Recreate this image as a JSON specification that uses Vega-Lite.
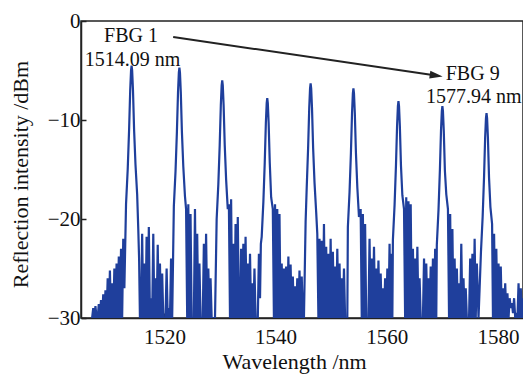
{
  "$schema": "https://vega.github.io/schema/vega-lite/v6.json",
  "width": 442,
  "height": 297,
  "autosize": "none",
  "padding": {"left": 81, "top": 21, "right": 0, "bottom": 56},
  "background": "white",
  "config": {
    "view": {"stroke": "#222", "strokeWidth": 1.5},
    "font": "Liberation Serif",
    "axis": {
      "grid": false,
      "domainColor": "#222",
      "domainWidth": 1.5,
      "tickColor": "#222",
      "tickWidth": 1.5,
      "tickSize": -5,
      "labelFont": "Liberation Serif",
      "labelFontSize": 21,
      "labelColor": "#111",
      "titleFont": "Liberation Serif",
      "titleFontSize": 22,
      "titleFontWeight": "normal",
      "titleColor": "#111"
    }
  },
  "encoding": {
    "x": {"type": "quantitative",
      "scale": {"domain": [1505, 1584.5], "nice": false, "zero": false},
      "axis": {"values": [1520, 1540, 1560, 1580], "format": "d", "title": "Wavelength /nm", "labelPadding": 13,
        "titleX": 213, "titleY": 50, "titleBaseline": "alphabetic", "titleAlign": "center", "titleAnchor": null}},
    "y": {"type": "quantitative",
      "scale": {"domain": [-30, 0], "nice": false, "zero": false},
      "axis": {"values": [-30, -20, -10, 0], "title": "Reflection intensity /dBm", "labelPadding": 6,
        "titleX": -54, "titleY": 153, "titleBaseline": "alphabetic", "titleAlign": "center", "titleAngle": -90}}
  },
  "layer": [
    {
      "data": {"values": [
        {"w":1507.0,"r":-30},{"w":1507.2,"r":-29.0},{"w":1507.4,"r":-30},{"w":1507.6,"r":-28.8},{"w":1507.8,"r":-30},{"w":1508.0,"r":-30},{"w":1508.2,"r":-28.6},{"w":1508.4,"r":-30},{"w":1508.6,"r":-28.2},{"w":1508.8,"r":-30},
        {"w":1509.0,"r":-27.6},{"w":1509.2,"r":-30},{"w":1509.4,"r":-27.2},{"w":1509.6,"r":-30},{"w":1509.8,"r":-26.0},{"w":1510.0,"r":-30},{"w":1510.2,"r":-25.2},{"w":1510.4,"r":-30},{"w":1510.6,"r":-26.5},{"w":1510.8,"r":-30},
        {"w":1511.0,"r":-25.0},{"w":1511.2,"r":-30},{"w":1511.4,"r":-24.5},{"w":1511.6,"r":-30},{"w":1511.8,"r":-23.8},{"w":1512.0,"r":-30},{"w":1512.2,"r":-23.0},{"w":1512.4,"r":-30},{"w":1512.6,"r":-22.0},{"w":1512.8,"r":-27.0},
        {"w":1513.1,"r":-18.5},{"w":1513.4,"r":-15.0},{"w":1513.65,"r":-11.0},{"w":1513.85,"r":-7.0},{"w":1514.0,"r":-5.0},{"w":1514.1,"r":-4.5},{"w":1514.2,"r":-5.0},{"w":1514.35,"r":-7.0},{"w":1514.55,"r":-11.0},{"w":1514.8,"r":-14.5},{"w":1515.1,"r":-17.5},{"w":1515.3,"r":-21.0},{"w":1515.45,"r":-24.0},
        {"w":1515.6,"r":-30},{"w":1515.8,"r":-30},{"w":1516.0,"r":-21.5},{"w":1516.2,"r":-30},{"w":1516.4,"r":-24.5},{"w":1516.6,"r":-30},{"w":1516.8,"r":-21.8},{"w":1517.0,"r":-30},{"w":1517.2,"r":-20.8},{"w":1517.4,"r":-30},
        {"w":1517.6,"r":-28.0},{"w":1517.8,"r":-30},{"w":1518.0,"r":-21.5},{"w":1518.2,"r":-30},{"w":1518.4,"r":-26.0},{"w":1518.6,"r":-30},{"w":1518.8,"r":-22.6},{"w":1519.0,"r":-30},{"w":1519.2,"r":-24.5},{"w":1519.4,"r":-30},
        {"w":1519.6,"r":-25.5},{"w":1519.8,"r":-30},{"w":1520.0,"r":-30},{"w":1520.2,"r":-30},{"w":1520.4,"r":-25.0},{"w":1520.6,"r":-30},{"w":1520.8,"r":-29.0},{"w":1521.0,"r":-30},{"w":1521.2,"r":-24.0},{"w":1521.4,"r":-30},
        {"w":1521.7,"r":-18.7},{"w":1522.0,"r":-15.2},{"w":1522.25,"r":-11.2},{"w":1522.45,"r":-7.2},{"w":1522.6,"r":-5.2},{"w":1522.7,"r":-4.7},{"w":1522.8,"r":-5.2},{"w":1522.95,"r":-7.2},{"w":1523.15,"r":-11.2},{"w":1523.4,"r":-14.7},{"w":1523.7,"r":-17.7},
        {"w":1523.9,"r":-19.0},{"w":1524.1,"r":-30},{"w":1524.3,"r":-18.5},{"w":1524.5,"r":-30},{"w":1524.7,"r":-19.5},{"w":1524.9,"r":-30},{"w":1525.1,"r":-30},{"w":1525.3,"r":-30},{"w":1525.5,"r":-19.0},{"w":1525.7,"r":-30},
        {"w":1525.9,"r":-21.5},{"w":1526.1,"r":-30},{"w":1526.3,"r":-24.5},{"w":1526.5,"r":-30},{"w":1526.7,"r":-30},{"w":1526.9,"r":-30},{"w":1527.1,"r":-22.5},{"w":1527.3,"r":-30},{"w":1527.5,"r":-21.5},{"w":1527.7,"r":-30},
        {"w":1527.9,"r":-25.0},{"w":1528.1,"r":-30},{"w":1528.3,"r":-26.0},{"w":1528.5,"r":-30},{"w":1528.7,"r":-30},{"w":1528.9,"r":-30},{"w":1529.1,"r":-30},
        {"w":1529.4,"r":-20.0},{"w":1529.7,"r":-16.5},{"w":1529.95,"r":-12.5},{"w":1530.15,"r":-8.5},{"w":1530.3,"r":-6.5},{"w":1530.4,"r":-6.0},{"w":1530.5,"r":-6.5},{"w":1530.65,"r":-8.5},{"w":1530.85,"r":-12.5},{"w":1531.1,"r":-16.0},{"w":1531.4,"r":-19.0},
        {"w":1531.6,"r":-18.5},{"w":1531.8,"r":-30},{"w":1532.0,"r":-18.0},{"w":1532.2,"r":-30},{"w":1532.4,"r":-22.5},{"w":1532.6,"r":-30},{"w":1532.8,"r":-20.5},{"w":1533.0,"r":-30},{"w":1533.2,"r":-19.8},{"w":1533.4,"r":-30},
        {"w":1533.6,"r":-30},{"w":1533.8,"r":-23.0},{"w":1534.0,"r":-30},{"w":1534.2,"r":-22.5},{"w":1534.4,"r":-30},{"w":1534.6,"r":-21.8},{"w":1534.8,"r":-30},{"w":1535.0,"r":-24.5},{"w":1535.2,"r":-30},{"w":1535.4,"r":-23.5},
        {"w":1535.6,"r":-30},{"w":1535.8,"r":-26.5},{"w":1536.0,"r":-30},{"w":1536.2,"r":-25.0},{"w":1536.4,"r":-30},{"w":1536.6,"r":-30},{"w":1536.8,"r":-30},{"w":1537.0,"r":-23.5},{"w":1537.2,"r":-28.0},{"w":1537.35,"r":-22.5},
        {"w":1537.5,"r":-21.8},{"w":1537.8,"r":-18.3},{"w":1538.05,"r":-14.3},{"w":1538.25,"r":-10.3},{"w":1538.4,"r":-8.3},{"w":1538.5,"r":-7.8},{"w":1538.6,"r":-8.3},{"w":1538.75,"r":-10.3},{"w":1538.95,"r":-14.3},{"w":1539.2,"r":-17.8},{"w":1539.5,"r":-19.0},
        {"w":1539.7,"r":-30},{"w":1539.9,"r":-18.5},{"w":1540.1,"r":-30},{"w":1540.3,"r":-19.0},{"w":1540.5,"r":-30},{"w":1540.7,"r":-19.5},{"w":1540.9,"r":-30},
        {"w":1541.1,"r":-24.5},{"w":1541.3,"r":-30},{"w":1541.5,"r":-25.0},{"w":1541.7,"r":-30},{"w":1541.9,"r":-24.8},{"w":1542.1,"r":-30},{"w":1542.3,"r":-23.8},{"w":1542.5,"r":-30},{"w":1542.7,"r":-24.6},{"w":1542.9,"r":-30},
        {"w":1543.1,"r":-25.8},{"w":1543.3,"r":-30},{"w":1543.5,"r":-26.8},{"w":1543.7,"r":-30},{"w":1543.9,"r":-26.0},{"w":1544.1,"r":-30},{"w":1544.3,"r":-25.2},{"w":1544.5,"r":-30},{"w":1544.7,"r":-25.8},{"w":1544.9,"r":-30},{"w":1545.1,"r":-30},
        {"w":1545.4,"r":-20.3},{"w":1545.6,"r":-16.8},{"w":1545.85,"r":-12.8},{"w":1546.05,"r":-8.8},{"w":1546.2,"r":-6.8},{"w":1546.3,"r":-6.3},{"w":1546.4,"r":-6.8},{"w":1546.55,"r":-8.8},{"w":1546.75,"r":-12.8},{"w":1547.0,"r":-16.3},{"w":1547.3,"r":-19.3},
        {"w":1547.5,"r":-21.5},{"w":1547.7,"r":-30},{"w":1547.9,"r":-22.0},{"w":1548.1,"r":-30},{"w":1548.3,"r":-22.2},{"w":1548.5,"r":-30},{"w":1548.7,"r":-20.5},{"w":1548.9,"r":-30},{"w":1549.1,"r":-22.8},{"w":1549.3,"r":-30},
        {"w":1549.5,"r":-23.5},{"w":1549.7,"r":-30},{"w":1549.9,"r":-22.0},{"w":1550.1,"r":-30},{"w":1550.3,"r":-23.3},{"w":1550.5,"r":-30},{"w":1550.7,"r":-24.8},{"w":1550.9,"r":-30},{"w":1551.1,"r":-23.0},{"w":1551.3,"r":-30},
        {"w":1551.5,"r":-24.5},{"w":1551.7,"r":-30},{"w":1551.9,"r":-26.0},{"w":1552.1,"r":-30},{"w":1552.3,"r":-25.0},{"w":1552.5,"r":-30},{"w":1552.7,"r":-30},{"w":1552.9,"r":-30},
        {"w":1553.0,"r":-20.8},{"w":1553.3,"r":-17.3},{"w":1553.55,"r":-13.3},{"w":1553.75,"r":-9.3},{"w":1553.9,"r":-7.3},{"w":1554.0,"r":-6.8},{"w":1554.1,"r":-7.3},{"w":1554.25,"r":-9.3},{"w":1554.45,"r":-13.3},{"w":1554.7,"r":-16.8},{"w":1555.0,"r":-19.8},
        {"w":1555.3,"r":-19.0},{"w":1555.5,"r":-30},{"w":1555.7,"r":-19.5},{"w":1555.9,"r":-30},{"w":1556.1,"r":-20.5},{"w":1556.3,"r":-30},{"w":1556.5,"r":-30},{"w":1556.7,"r":-30},{"w":1556.9,"r":-22.0},{"w":1557.1,"r":-30},
        {"w":1557.3,"r":-24.0},{"w":1557.5,"r":-30},{"w":1557.7,"r":-22.8},{"w":1557.9,"r":-30},{"w":1558.1,"r":-25.0},{"w":1558.3,"r":-30},{"w":1558.5,"r":-24.2},{"w":1558.7,"r":-30},{"w":1558.9,"r":-25.5},{"w":1559.1,"r":-30},
        {"w":1559.3,"r":-27.0},{"w":1559.5,"r":-30},{"w":1559.7,"r":-26.0},{"w":1559.9,"r":-30},{"w":1560.1,"r":-25.0},{"w":1560.3,"r":-30},{"w":1560.5,"r":-22.5},{"w":1560.7,"r":-30},{"w":1560.9,"r":-23.5},{"w":1561.0,"r":-30},
        {"w":1561.1,"r":-22.1},{"w":1561.4,"r":-18.6},{"w":1561.65,"r":-14.6},{"w":1561.85,"r":-10.6},{"w":1562.0,"r":-8.6},{"w":1562.1,"r":-8.1},{"w":1562.2,"r":-8.6},{"w":1562.35,"r":-10.6},{"w":1562.55,"r":-14.6},{"w":1562.8,"r":-17.6},{"w":1563.1,"r":-19.0},
        {"w":1563.3,"r":-30},{"w":1563.5,"r":-17.8},{"w":1563.7,"r":-30},{"w":1563.9,"r":-18.2},{"w":1564.1,"r":-30},{"w":1564.3,"r":-18.5},{"w":1564.5,"r":-30},
        {"w":1564.7,"r":-23.0},{"w":1564.9,"r":-30},{"w":1565.1,"r":-24.0},{"w":1565.3,"r":-30},{"w":1565.5,"r":-22.8},{"w":1565.7,"r":-30},{"w":1565.9,"r":-26.0},{"w":1566.1,"r":-30},{"w":1566.3,"r":-30},{"w":1566.5,"r":-30},
        {"w":1566.7,"r":-24.0},{"w":1566.9,"r":-30},{"w":1567.1,"r":-24.5},{"w":1567.3,"r":-30},{"w":1567.5,"r":-26.0},{"w":1567.7,"r":-30},{"w":1567.9,"r":-24.8},{"w":1568.1,"r":-30},{"w":1568.3,"r":-24.0},{"w":1568.5,"r":-30},{"w":1568.7,"r":-23.0},{"w":1568.9,"r":-30},
        {"w":1569.0,"r":-22.6},{"w":1569.3,"r":-19.1},{"w":1569.55,"r":-15.1},{"w":1569.75,"r":-11.1},{"w":1569.9,"r":-9.1},{"w":1570.0,"r":-8.6},{"w":1570.1,"r":-9.1},{"w":1570.25,"r":-11.1},{"w":1570.45,"r":-15.1},{"w":1570.7,"r":-17.5},{"w":1571.0,"r":-19.0},
        {"w":1571.2,"r":-30},{"w":1571.4,"r":-19.5},{"w":1571.6,"r":-30},{"w":1571.8,"r":-21.0},{"w":1572.0,"r":-30},{"w":1572.2,"r":-24.0},{"w":1572.4,"r":-30},{"w":1572.6,"r":-25.0},{"w":1572.8,"r":-30},{"w":1573.0,"r":-26.5},
        {"w":1573.2,"r":-30},{"w":1573.4,"r":-22.5},{"w":1573.6,"r":-30},{"w":1573.8,"r":-26.0},{"w":1574.0,"r":-30},{"w":1574.2,"r":-27.0},{"w":1574.4,"r":-30},{"w":1574.6,"r":-30},{"w":1574.8,"r":-30},{"w":1575.0,"r":-24.0},
        {"w":1575.2,"r":-30},{"w":1575.4,"r":-23.5},{"w":1575.6,"r":-30},{"w":1575.8,"r":-22.0},{"w":1576.0,"r":-30},{"w":1576.2,"r":-24.5},{"w":1576.5,"r":-30},
        {"w":1576.94,"r":-23.3},{"w":1577.24,"r":-19.8},{"w":1577.49,"r":-15.8},{"w":1577.69,"r":-11.8},{"w":1577.84,"r":-9.8},{"w":1577.94,"r":-9.3},{"w":1578.04,"r":-9.8},{"w":1578.19,"r":-11.8},{"w":1578.39,"r":-15.8},{"w":1578.64,"r":-18.8},{"w":1578.94,"r":-20.5},
        {"w":1579.1,"r":-30},{"w":1579.3,"r":-21.5},{"w":1579.5,"r":-30},{"w":1579.7,"r":-23.0},{"w":1579.9,"r":-30},{"w":1580.1,"r":-24.5},{"w":1580.3,"r":-30},{"w":1580.5,"r":-24.8},{"w":1580.7,"r":-30},{"w":1580.9,"r":-27.0},
        {"w":1581.1,"r":-30},{"w":1581.3,"r":-26.5},{"w":1581.5,"r":-30},{"w":1581.7,"r":-27.5},{"w":1581.9,"r":-30},{"w":1582.1,"r":-28.0},{"w":1582.3,"r":-29.0},{"w":1582.5,"r":-28.5},{"w":1582.7,"r":-29.5},{"w":1582.9,"r":-28.0},
        {"w":1583.1,"r":-30},{"w":1583.3,"r":-29.5},{"w":1583.5,"r":-30},{"w":1583.7,"r":-26.5},{"w":1583.9,"r":-30},{"w":1584.1,"r":-27.0},{"w":1584.3,"r":-30},{"w":1584.5,"r":-28.0}
      ]},
      "mark": {"type": "line", "color": "#1f3f9c", "strokeWidth": 2.2, "clip": true, "strokeJoin": "miter", "strokeMiterLimit": 2},
      "encoding": {
        "x": {"field": "w", "type": "quantitative", "sort": null},
        "y": {"field": "r", "type": "quantitative"}
      }
    },
    {
      "data": {"values": [{"w": 1521.58, "r": -1.62, "w2": 1568.24, "r2": -5.45}]},
      "mark": {"type": "rule", "color": "#222", "strokeWidth": 2},
      "encoding": {
        "x": {"field": "w", "type": "quantitative"},
        "y": {"field": "r", "type": "quantitative"},
        "x2": {"field": "w2"},
        "y2": {"field": "r2"}
      }
    },
    {
      "data": {"values": [{"w": 1568.89, "r": -5.51}]},
      "mark": {"type": "point", "shape": "M-1,-0.6L1,0L-1,0.6Z", "filled": true, "color": "#222", "size": 169, "angle": 8.4, "opacity": 1},
      "encoding": {
        "x": {"field": "w", "type": "quantitative"},
        "y": {"field": "r", "type": "quantitative"}
      }
    },
    {
      "data": {"values": [
        {"w": 1514.0, "r": -2.12, "t": "FBG 1"},
        {"w": 1514.28, "r": -4.55, "t": "1514.09 nm"},
        {"w": 1575.45, "r": -5.96, "t": "FBG 9"},
        {"w": 1575.63, "r": -8.28, "t": "1577.94 nm"}
      ]},
      "mark": {"type": "text", "font": "Liberation Serif", "fontSize": 20, "color": "#111", "align": "center", "baseline": "alphabetic"},
      "encoding": {
        "x": {"field": "w", "type": "quantitative"},
        "y": {"field": "r", "type": "quantitative"},
        "text": {"field": "t"}
      }
    }
  ]
}
